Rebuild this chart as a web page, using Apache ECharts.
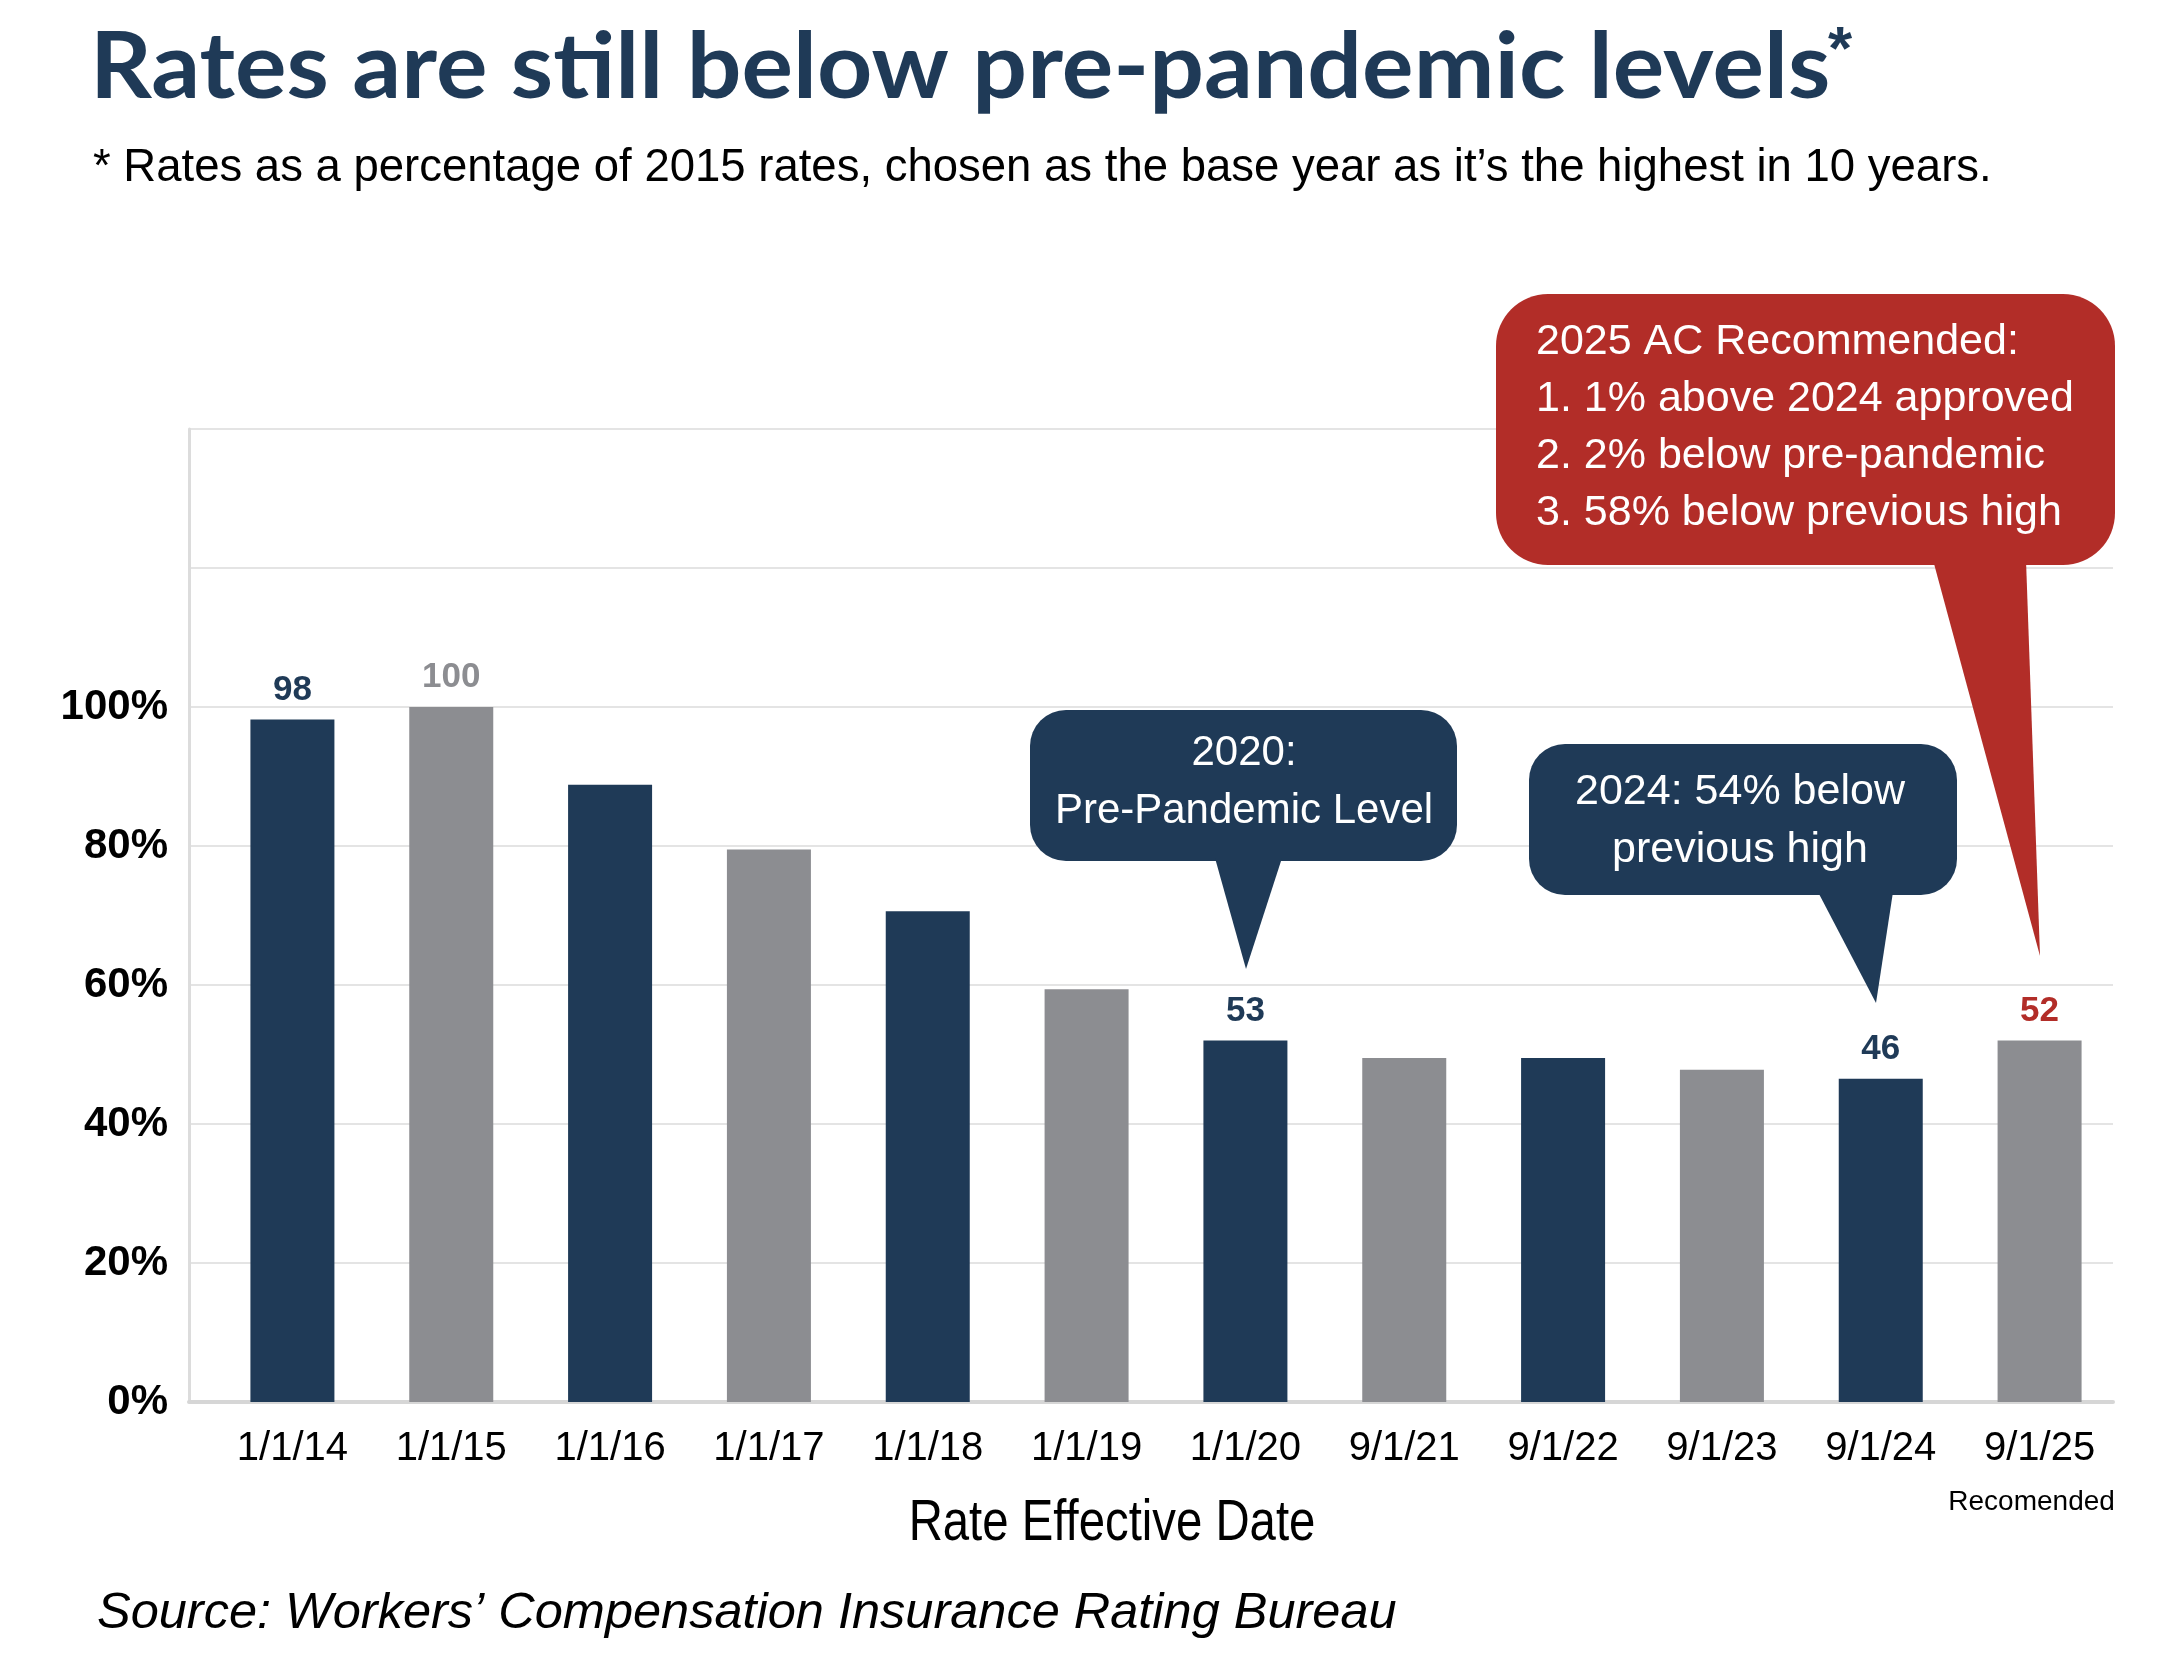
<!DOCTYPE html>
<html><head><meta charset="utf-8">
<script src="https://cdn.jsdelivr.net/npm/echarts@6/dist/echarts.min.js"></script>
<style>html,body{margin:0;padding:0;background:#fff}#c{width:2162px;height:1674px}</style>
</head><body><div id="c"></div>
<script>
// ---- data ----
const categories = ['1/1/14','1/1/15','1/1/16','1/1/17','1/1/18','1/1/19','1/1/20','9/1/21','9/1/22','9/1/23','9/1/24','9/1/25'];
const rateValues = [98.2, 100, 88.8, 79.5, 70.6, 59.4, 52, 49.5, 49.5, 47.8, 46.5, 52];
const valueLabels = ['98','100','','','','','53','','','','46','52'];
const yTickLabels = ['0%','20%','40%','60%','80%','100%'];
const yMax = 140, yStep = 20;
const noteCategory = '9/1/25', noteText = 'Recomended';

// ---- styles ----
const NAVY = '#1f3a57', GRAY = '#8c8d91', RED = '#b22d28';
const ARIAL = '"Liberation Sans",Arial,sans-serif';
const barColors = categories.map((c,i)=> i%2===0 ? NAVY : GRAY);
const labelColors = categories.map((c,i)=> i===categories.length-1 ? RED : barColors[i]);

const chart = echarts.init(document.getElementById('c'));
const option = {
  animation: false,
  backgroundColor: '#fff',
  grid: [
    {left: 189, right: 49, top: 429, bottom: 272},
    {left: 213, right: 43, top: 429, bottom: 272}
  ],
  xAxis: [
    {gridIndex: 0, type: 'category', data: categories,
     axisLine: {show: true, lineStyle: {color: '#d6d6d6', width: 4}},
     axisTick: {show: false}, axisLabel: {show: false}},
    {gridIndex: 1, type: 'category', data: categories,
     axisLine: {show: false}, axisTick: {show: false},
     axisLabel: {
       margin: 20, interval: 0,
       fontFamily: ARIAL, fontSize: 40, color: '#000', lineHeight: 54,
       formatter: v => v === noteCategory ? v + '\n{s|' + noteText + '}' : v,
       rich: {s: {fontFamily: ARIAL, fontSize: 28, color: '#000', lineHeight: 52, padding: [0, 16, 0, 0]}}
     }}
  ],
  yAxis: [
    {gridIndex: 0, type: 'value', min: 0, max: yMax, interval: yStep,
     axisLine: {show: true, lineStyle: {color: '#dcdcdc', width: 3}},
     axisTick: {show: false},
     splitLine: {lineStyle: {color: '#e4e4e4', width: 2}},
     axisLabel: {
       margin: 21, fontFamily: ARIAL, fontWeight: 'bold', fontSize: 42, color: '#000',
       formatter: v => yTickLabels[Math.round(v / yStep)] || ''
     }},
    {gridIndex: 1, type: 'value', min: 0, max: yMax, interval: yStep, show: false}
  ],
  series: [{
    type: 'bar', xAxisIndex: 1, yAxisIndex: 1, barWidth: 84,
    label: {show: true, position: 'top', distance: 12, fontFamily: ARIAL, fontWeight: 'bold', fontSize: 35},
    data: rateValues.map((v, i) => ({
      value: v,
      itemStyle: {color: barColors[i]},
      label: {show: valueLabels[i] !== '', formatter: valueLabels[i], color: labelColors[i]}
    }))
  }],
  graphic: [
    // Title & subtitle
    {type: 'text', x: 90, y: 69, z: 100, scaleX: 1.06, style: {text: 'Rates are still below pre-pandemic levels', fill: NAVY,
      font: 'bold 91px Lato, sans-serif', verticalAlign: 'middle'}},
    {type: 'text', x: 1828, y: 52, z: 100, style: {text: '*', fill: NAVY,
      font: 'bold 62px ' + ARIAL, verticalAlign: 'middle'}},
    {type: 'text', x: 93, y: 168, z: 100, style: {text: '* Rates as a percentage of 2015 rates, chosen as the base year as it\u2019s the highest in 10 years.',
      fill: '#000', font: '45.5px ' + ARIAL, verticalAlign: 'middle'}},
    // Axis name
    {type: 'text', x: 1112, y: 1524, z: 100, scaleX: 0.83, style: {text: 'Rate Effective Date', fill: '#000',
      font: '57px ' + ARIAL, align: 'center', verticalAlign: 'middle'}},
    // Source
    {type: 'text', x: 97, y: 1614, z: 100, style: {text: 'Source: Workers\u2019 Compensation Insurance Rating Bureau', fill: '#000',
      font: 'italic 50.5px ' + ARIAL, verticalAlign: 'middle'}},
    // Callout 1: 2020
    {type: 'rect', z: 100, shape: {x: 1030, y: 710, width: 427, height: 151, r: 36}, style: {fill: NAVY}},
    {type: 'polygon', z: 100, shape: {points: [[1215, 858], [1282, 858], [1246, 969]]}, style: {fill: NAVY}},
    {type: 'text', z: 101, x: 1244, y: 782, style: {text: '2020:\nPre-Pandemic Level', fill: '#fff',
      font: '42px ' + ARIAL, lineHeight: 58, align: 'center', verticalAlign: 'middle'}},
    // Callout 2: 2024
    {type: 'rect', z: 100, shape: {x: 1529, y: 744, width: 428, height: 151, r: 36}, style: {fill: NAVY}},
    {type: 'polygon', z: 100, shape: {points: [[1818, 892], [1893, 892], [1876, 1003]]}, style: {fill: NAVY}},
    {type: 'text', z: 101, x: 1740, y: 821, style: {text: '2024: 54% below\nprevious high', fill: '#fff',
      font: '43px ' + ARIAL, lineHeight: 58, align: 'center', verticalAlign: 'middle'}},
    // Callout 3: 2025 recommended
    {type: 'rect', z: 100, shape: {x: 1496, y: 294, width: 619, height: 271, r: 52}, style: {fill: RED}},
    {type: 'polygon', z: 100, shape: {points: [[1933, 560], [2026, 560], [2040, 956]]}, style: {fill: RED}},
    {type: 'text', z: 101, x: 1536, y: 428, style: {text: '2025 AC Recommended:\n1. 1% above 2024 approved\n2. 2% below pre-pandemic\n3. 58% below previous high',
      fill: '#fff', font: '43px ' + ARIAL, lineHeight: 57, align: 'left', verticalAlign: 'middle'}}
  ]
};
chart.setOption(option);
</script>
</body></html>
